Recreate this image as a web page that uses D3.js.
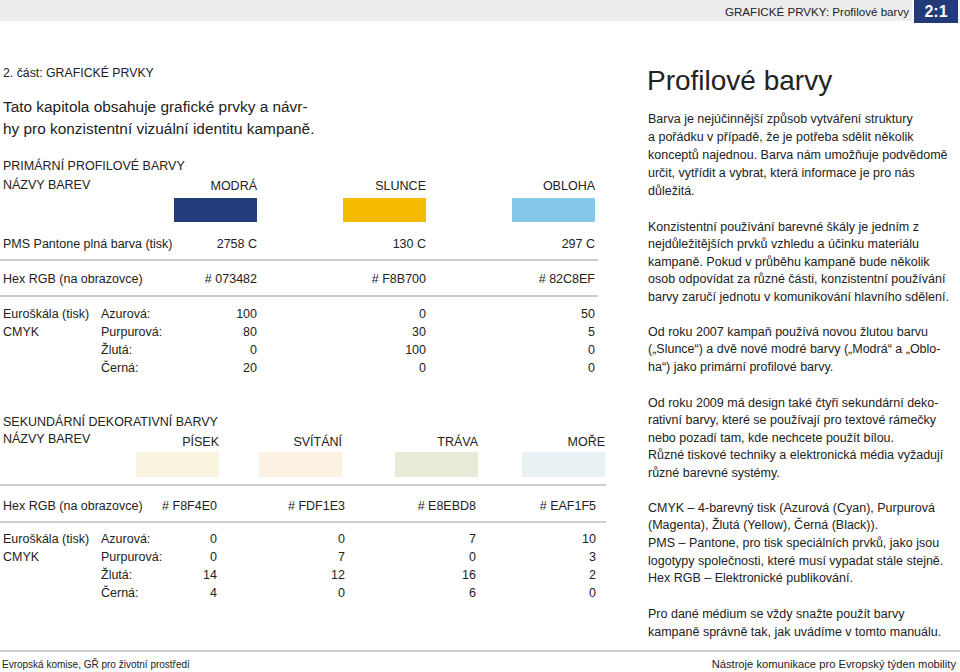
<!DOCTYPE html>
<html>
<head>
<meta charset="utf-8">
<script src="https://cdn.jsdelivr.net/npm/d3@7"></script>
<style>
  html, body { margin: 0; padding: 0; background: #fff; }
  svg text { font-family: "Liberation Sans", Arial, Helvetica, sans-serif; fill: #222; }
</style>
</head>
<body>
<div id="container"></div>
<script>
var cmykLabels = ["Azurová:", "Purpurová:", "Žlutá:", "Černá:"];

var primaryNames = ["MODRÁ", "SLUNCE", "OBLOHA"];
var primaryPantone = ["2758 C", "130 C", "297 C"];
var primaryHex = ["073482", "F8B700", "82C8EF"];
var primaryCyan = [100, 0, 50];
var primaryMagenta = [80, 30, 5];
var primaryYellow = [0, 100, 0];
var primaryBlack = [20, 0, 0];

var secondaryNames = ["PÍSEK", "SVÍTÁNÍ", "TRÁVA", "MOŘE"];
var secondaryHex = ["F8F4E0", "FDF1E3", "E8EBD8", "EAF1F5"];
var secondaryCyan = [0, 0, 7, 10];
var secondaryMagenta = [0, 7, 0, 3];
var secondaryYellow = [14, 12, 16, 2];
var secondaryBlack = [4, 0, 6, 0];

var paragraphs = [
  { y: 118, step: 18, lines: [
    "Barva je nejúčinnější způsob vytváření struktury",
    "a pořádku v případě, že je potřeba sdělit několik",
    "konceptů najednou. Barva nám umožňuje podvědomě",
    "určit, vytřídit a vybrat, která informace je pro nás",
    "důležitá."] },
  { y: 226, step: 17.5, lines: [
    "Konzistentní používání barevné škály je jedním z",
    "nejdůležitějších prvků vzhledu a účinku materiálu",
    "kampaně. Pokud v průběhu kampaně bude několik",
    "osob odpovídat za různé části, konzistentní používání",
    "barvy zaručí jednotu v komunikování hlavního sdělení."] },
  { y: 331, step: 17.5, lines: [
    "Od roku 2007 kampaň používá novou žlutou barvu",
    "(„Slunce“) a dvě nové modré barvy („Modrá“ a „Oblo-",
    "ha“) jako primární profilové barvy."] },
  { y: 402, step: 17.5, lines: [
    "Od roku 2009 má design také čtyři sekundární deko-",
    "rativní barvy, které se používají pro textové rámečky",
    "nebo pozadí tam, kde nechcete použít bílou.",
    "Různé tiskové techniky a elektronická média vyžadují",
    "různé barevné systémy."] },
  { y: 507, step: 17.7, lines: [
    "CMYK – 4-barevný tisk (Azurová (Cyan), Purpurová",
    "(Magenta), Žlutá (Yellow), Černá (Black)).",
    "PMS – Pantone, pro tisk speciálních prvků, jako jsou",
    "logotypy společnosti, které musí vypadat stále stejně.",
    "Hex RGB – Elektronické publikování."] },
  { y: 613, step: 18, lines: [
    "Pro dané médium se vždy snažte použít barvy",
    "kampaně správně tak, jak uvádíme v tomto manuálu."] }
];

var W = 960, H = 672, FS = 12.5;
var svg = d3.select("#container").append("svg")
  .attr("width", W).attr("height", H);

function label(x, y, txt, size, anchor) {
  return svg.append("text")
    .attr("x", x).attr("y", y).attr("dy", "0.36em")
    .attr("font-size", size || FS)
    .attr("text-anchor", anchor || "start")
    .text(txt);
}
function rule(x1, x2, y) {
  svg.append("line").attr("x1", x1).attr("x2", x2).attr("y1", y).attr("y2", y)
    .attr("stroke", "#9a9a9a").attr("stroke-width", 1);
}

// header
svg.append("rect").attr("x", 0).attr("y", 0).attr("width", 912).attr("height", 21).attr("fill", "#ededed");
svg.append("rect").attr("x", 914).attr("y", 0).attr("width", 44).attr("height", 23).attr("fill", "#22397a");
label(909, 12, "GRAFICKÉ PRVKY: Profilové barvy", 11.6, "end");
label(936, 11, "2:1", 16, "middle").style("fill", "#fff").attr("font-weight", "bold");

// left intro
label(3, 73, "2. část: GRAFICKÉ PRVKY", 12.3);
label(3, 106, "Tato kapitola obsahuje grafické prvky a návr-", 15.4);
label(3, 128, "hy pro konzistentní vizuální identitu kampaně.", 15.4);
label(3, 165, "PRIMÁRNÍ PROFILOVÉ BARVY", FS);
label(3, 184, "NÁZVY BAREV", FS);

// primary table
var px = d3.scalePoint().domain(primaryNames).range([257, 595]);
var py = d3.scalePoint().domain(cmykLabels).range([313, 367]);
var pfill = d3.scaleOrdinal().domain(primaryNames).range(["#233d7a", "#f5bb00", "#86c8ec"]);
var sw = 83;

svg.selectAll(".pname").data(primaryNames).enter().append("text")
  .attr("x", d => px(d)).attr("y", 185).attr("dy", "0.36em")
  .attr("font-size", FS).attr("text-anchor", "end").text(d => d);
svg.selectAll(".pswatch").data(primaryNames).enter().append("rect")
  .attr("x", d => px(d) - sw).attr("y", 198).attr("width", sw).attr("height", 24)
  .attr("fill", d => pfill(d));

label(3, 243, "PMS Pantone plná barva (tisk)", FS);
svg.selectAll(".ppms").data(primaryPantone).enter().append("text")
  .attr("x", (d, i) => px(primaryNames[i])).attr("y", 243).attr("dy", "0.36em")
  .attr("font-size", FS).attr("text-anchor", "end").text(d => d);
rule(0, 598, 260);

label(3, 278, "Hex RGB (na obrazovce)", FS);
svg.selectAll(".phex").data(primaryHex).enter().append("text")
  .attr("x", (d, i) => px(primaryNames[i])).attr("y", 278).attr("dy", "0.36em")
  .attr("font-size", FS).attr("text-anchor", "end").text(d => "# " + d);
rule(0, 598, 296);

label(3, 313, "Euroškála (tisk)", FS);
label(3, 331, "CMYK", FS);
var primaryRows = [primaryCyan, primaryMagenta, primaryYellow, primaryBlack];
cmykLabels.forEach(function(c, r) {
  label(101, py(c), c, FS);
  svg.selectAll(".pv" + r).data(primaryRows[r]).enter().append("text")
    .attr("x", (d, i) => px(primaryNames[i])).attr("y", py(c)).attr("dy", "0.36em")
    .attr("font-size", FS).attr("text-anchor", "end").text(d => d);
});

// secondary table
var sx = d3.scaleOrdinal().domain(secondaryNames).range([219, 342, 478, 605]);
var vx = d3.scaleOrdinal().domain(secondaryNames).range([217, 345, 476, 596]);
var sy = d3.scalePoint().domain(cmykLabels).range([538, 592]);

label(3, 421, "SEKUNDÁRNÍ DEKORATIVNÍ BARVY", FS);
label(3, 438, "NÁZVY BAREV", FS);
svg.selectAll(".sname").data(secondaryNames).enter().append("text")
  .attr("x", d => sx(d)).attr("y", 441).attr("dy", "0.36em")
  .attr("font-size", FS).attr("text-anchor", "end").text(d => d);
svg.selectAll(".sswatch").data(secondaryNames).enter().append("rect")
  .attr("x", d => sx(d) - sw).attr("y", 452).attr("width", sw).attr("height", 25)
  .attr("fill", (d, i) => "#" + secondaryHex[i]);
rule(0, 606, 485);

label(3, 505, "Hex RGB (na obrazovce)", FS);
svg.selectAll(".shex").data(secondaryHex).enter().append("text")
  .attr("x", (d, i) => vx(secondaryNames[i])).attr("y", 505).attr("dy", "0.36em")
  .attr("font-size", FS).attr("text-anchor", "end").text(d => "# " + d);
rule(0, 606, 522);

label(3, 538, "Euroškála (tisk)", FS);
label(3, 556, "CMYK", FS);
var secondaryRows = [secondaryCyan, secondaryMagenta, secondaryYellow, secondaryBlack];
cmykLabels.forEach(function(c, r) {
  label(101, sy(c), c, FS);
  svg.selectAll(".sv" + r).data(secondaryRows[r]).enter().append("text")
    .attr("x", (d, i) => vx(secondaryNames[i])).attr("y", sy(c)).attr("dy", "0.36em")
    .attr("font-size", FS).attr("text-anchor", "end").text(d => d);
});

// right column
label(647, 80, "Profilové barvy", 28);
paragraphs.forEach(function(p) {
  p.lines.forEach(function(l, i) {
    label(648, p.y + i * p.step, l, FS);
  });
});

// footer
rule(0, 960, 651);
label(2, 664, "Evropská komise, GŘ pro životní prostředí", 10);
label(956, 664, "Nástroje komunikace pro Evropský týden mobility", 11.2, "end");
</script>
</body>
</html>
